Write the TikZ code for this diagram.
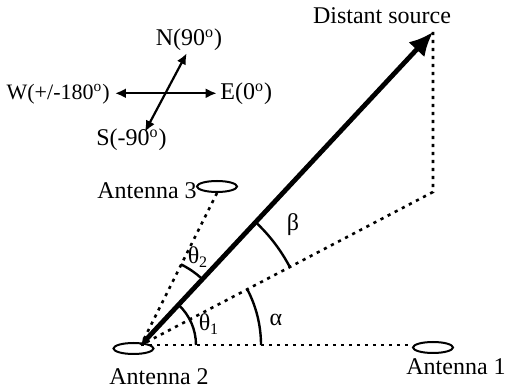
\documentclass[tikz,border=0pt]{standalone}
\usepackage{fontspec}
\setmainfont{Liberation Serif}
\usetikzlibrary{arrows.meta,shapes.geometric}

\newcommand{\degsup}{\textsuperscript{o}}

\tikzset{
  antenna/.style={draw,ellipse,line width=1pt,minimum width=20pt,minimum height=5.5pt,inner sep=0pt},
  dotline/.style={line width=1.3pt,dash pattern=on 1.6pt off 2.4pt},
  anglearc/.style={line width=1.2pt},
  compass/.style={line width=1.1pt,{Latex[length=5.5pt,width=5pt]}-{Latex[length=5.5pt,width=5pt]}},
  srcarrow/.style={line width=2.4pt,{Latex[length=3.5pt,width=4pt]}-{Latex[length=12pt,width=11pt]}},
  lbl/.style={font=\fontsize{12}{14}\selectfont,inner sep=1pt},
}

\begin{document}
\begin{tikzpicture}[x=0.5pt,y=0.5pt]
    \useasboundingbox (0,0) rectangle (505,391);

    % Rosa de los vientos.
    \node[lbl] (north) at (189,351) {N(90\degsup)};
    \node[lbl] (south) at (131.5,251) {S(-90\degsup)};
    \node[lbl,font=\fontsize{11}{13}\selectfont,anchor=east] (west) at (112,297) {W(+/-180\degsup)};
    \node[lbl,anchor=west] (east) at (218,297) {E(0\degsup)};
    \coordinate (tipW) at (115,297.7);
    \coordinate (tipE) at (216.7,297.7);
    \coordinate (tipN) at (186.7,337.7);
    \coordinate (tipS) at (145,259.3);
    \draw[compass] (tipW) -- (tipE);
    \draw[compass] (tipS) -- (tipN);

    % Antenas.
    \node[antenna] (ant1) at (433,43.5) {};
    \node[antenna] (ant2) at (133.5,42.5) {};
    \node[antenna] (ant3) at (217,204.5) {};
    \node[lbl] (ant1lbl) at (456,24) {Antenna 1};
    \node[lbl] (ant2lbl) at (159,14) {Antenna 2};
    \node[lbl] (ant3lbl) at (147,200.5) {Antenna 3};

    \coordinate (origin) at (141,46);
    \coordinate (src) at (433,359);
    \coordinate (proj) at (433,199);
    \node[lbl] (srclbl) at (382,375) {Distant source};

    % Lineas punteadas.
    \draw[dotline] (origin) -- (origin -| ant1.west);
    \draw[dotline] (src) -- (proj) -- (origin);
    \draw[dotline] (ant3.south) -- (origin);

    % Direccion de la fuente.
    \draw[srcarrow] (origin) -- (src);

    % Angulos.
    \draw[anglearc] ([shift={(0:55)}]origin) arc[start angle=0,end angle=47,radius=55];
    \draw[anglearc] ([shift={(0:120)}]origin) arc[start angle=0,end angle=27.6,radius=120];
    \draw[anglearc] ([shift={(27.6:168)}]origin) arc[start angle=27.6,end angle=47,radius=168];
    \draw[anglearc] ([shift={(47:90)}]origin) arc[start angle=47,end angle=63.6,radius=90];
    \node[lbl] (theta1) at (209,67) {θ\textsubscript{1}};
    \node[lbl] (alpha) at (276,71) {α};
    \node[lbl] (beta) at (293,166) {β};
    \node[lbl] (theta2) at (198,134) {θ\textsubscript{2}};
\end{tikzpicture}
\end{document}
